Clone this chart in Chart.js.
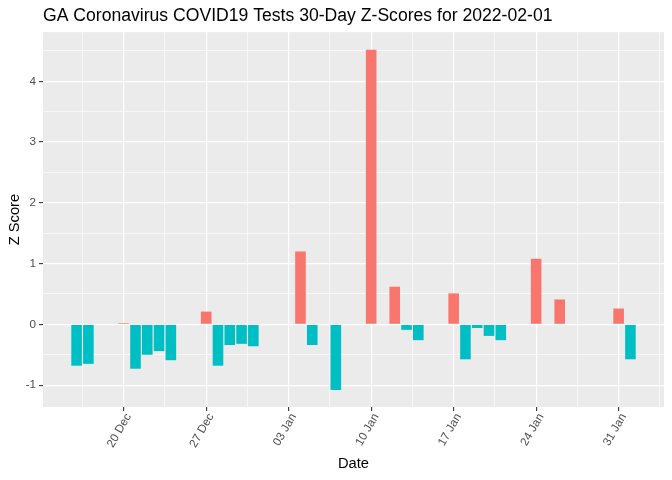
<!DOCTYPE html>
<html>
<head>
<meta charset="utf-8">
<script src="https://cdn.jsdelivr.net/npm/chart.js@4.4.1/dist/chart.umd.min.js"></script>
<style>
  html, body { margin: 0; padding: 0; background: #ffffff; }
  #wrap { width: 672px; height: 480px; }
</style>
</head>
<body>
<div id="wrap"><canvas id="zChart" width="672" height="480"></canvas></div>
<script>
// dates with a value, and the z score
const dates = [
  '2021-12-16', '2021-12-17', '2021-12-20', '2021-12-21', '2021-12-22', '2021-12-23', '2021-12-24',
  '2021-12-27', '2021-12-28', '2021-12-29', '2021-12-30', '2021-12-31',
  '2022-01-04', '2022-01-05', '2022-01-07',
  '2022-01-10', '2022-01-12', '2022-01-13', '2022-01-14',
  '2022-01-17', '2022-01-18', '2022-01-19', '2022-01-20', '2022-01-21',
  '2022-01-24', '2022-01-26',
  '2022-01-31', '2022-02-01'
];
const zScores = [
  -0.68, -0.65, 0.02, -0.73, -0.50, -0.44, -0.59,
  0.21, -0.68, -0.34, -0.32, -0.36,
  1.20, -0.34, -1.08,
  4.52, 0.62, -0.09, -0.26,
  0.51, -0.575, -0.06, -0.19, -0.26,
  1.08, 0.41,
  0.26, -0.575
];

// axis ticks
const xTickDates = ['2021-12-20', '2021-12-27', '2022-01-03', '2022-01-10', '2022-01-17', '2022-01-24', '2022-01-31'];
const xTickLabels = ['20 Dec', '27 Dec', '03 Jan', '10 Jan', '17 Jan', '24 Jan', '31 Jan'];
const yTicks = [-1, 0, 1, 2, 3, 4];

const POS = '#F8766D';
const NEG = '#00BFC4';

// date string -> day number
function dayNum(s) {
  const p = s.split('-').map(Number);
  return Date.UTC(p[0], p[1] - 1, p[2]) / 86400000;
}

const points = dates.map((d, i) => ({ x: dayNum(d), y: zScores[i] }));
const xMajor = xTickDates.map(dayNum);
// minor grid halfway between the majors (ggplot style)
const xMinor = [xMajor[0] - 3.5].concat(xMajor.map(v => v + 3.5));
const yMinor = [-0.5, 0.5, 1.5, 2.5, 3.5, 4.5];

// ggplot 5% expansion around the bars
const xMin = dayNum(dates[0]) - 0.45 - 2.4;
const xMax = dayNum(dates[dates.length - 1]) + 0.45 + 2.4;
const yMin = -1.36;
const yMax = 4.81;

// grey panel behind the bars
const panelBg = {
  id: 'panelBg',
  beforeDraw(chart) {
    const a = chart.chartArea;
    const ctx = chart.ctx;
    ctx.save();
    ctx.fillStyle = '#EBEBEB';
    ctx.fillRect(a.left, a.top, a.right - a.left, a.bottom - a.top);
    ctx.restore();
  }
};

function isMinor(tick) {
  return tick && tick.minor;
}

new Chart(document.getElementById('zChart'), {
  type: 'bar',
  data: {
    datasets: [{
      data: points,
      backgroundColor: zScores.map(v => v > 0 ? POS : NEG),
      barPercentage: 0.9,
      categoryPercentage: 1.0,
      borderWidth: 0
    }]
  },
  plugins: [panelBg],
  options: {
    responsive: false,
    animation: false,
    layout: { padding: { left: 0, right: 8, top: 0, bottom: 0 } },
    plugins: {
      legend: { display: false },
      tooltip: { enabled: false },
      title: {
        display: true,
        text: 'GA Coronavirus COVID19 Tests 30-Day Z-Scores for 2022-02-01',
        align: 'start',
        fullSize: false,
        color: '#000000',
        font: { family: 'Liberation Sans', size: 17.6, weight: 'normal' },
        padding: { top: 6, bottom: 5 }
      }
    },
    scales: {
      x: {
        type: 'linear',
        min: xMin,
        max: xMax,
        offset: false,
        afterBuildTicks(scale) {
          scale.ticks = xMinor.map(v => ({ value: v, minor: true }))
            .concat(xMajor.map(v => ({ value: v, minor: false })));
        },
        afterFit(scale) {
          scale.height = 73;
          scale.paddingLeft = 0;
          scale.paddingRight = 0;
        },
        border: { display: false },
        grid: {
          offset: false,
          color: '#FFFFFF',
          lineWidth: ctx => isMinor(ctx.tick) ? 0.6 : 1.2,
          tickColor: ctx => isMinor(ctx.tick) ? 'rgba(0,0,0,0)' : '#333333',
          tickLength: 4,
          tickWidth: 1.1
        },
        ticks: {
          autoSkip: false,
          minRotation: 60,
          maxRotation: 60,
          padding: 0,
          labelOffset: 5,
          color: '#4D4D4D',
          font: { family: 'Liberation Sans', size: 11.7 },
          callback(value) {
            const i = xMajor.indexOf(value);
            return i >= 0 ? xTickLabels[i] : '';
          }
        },
        title: {
          display: true,
          text: 'Date',
          color: '#000000',
          font: { family: 'Liberation Sans', size: 14.7 },
          padding: { top: 0, bottom: 7 }
        }
      },
      y: {
        type: 'linear',
        min: yMin,
        max: yMax,
        afterBuildTicks(scale) {
          scale.ticks = yTicks.map(v => ({ value: v, minor: false }))
            .concat(yMinor.map(v => ({ value: v, minor: true })));
        },
        afterFit(scale) {
          scale.width = 43;
          scale.paddingTop = 0;
          scale.paddingBottom = 0;
        },
        border: { display: false },
        grid: {
          color: '#FFFFFF',
          lineWidth: ctx => isMinor(ctx.tick) ? 0.6 : 1.2,
          tickColor: ctx => isMinor(ctx.tick) ? 'rgba(0,0,0,0)' : '#333333',
          tickLength: 4,
          tickWidth: 1.1
        },
        ticks: {
          padding: 3,
          color: '#4D4D4D',
          font: { family: 'Liberation Sans', size: 11.7 },
          callback(value) {
            return yTicks.indexOf(value) >= 0 ? String(value) : '';
          }
        },
        title: {
          display: true,
          text: 'Z Score',
          color: '#000000',
          font: { family: 'Liberation Sans', size: 14.7 },
          padding: { top: 6, bottom: 0 }
        }
      }
    }
  }
});
</script>
</body>
</html>
